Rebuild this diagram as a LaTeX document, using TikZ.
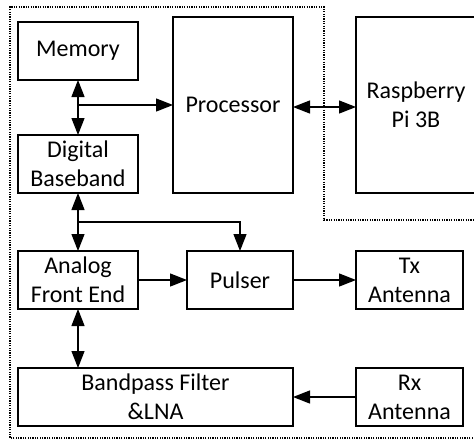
\documentclass[tikz,border=0pt]{standalone}
\usepackage{fontspec}
\setmainfont{Carlito}
\usetikzlibrary{arrows.meta}
\begin{document}
\begin{tikzpicture}[x=1pt,y=-1pt,
  every node/.style={font=\fontsize{24}{29}\selectfont},
  blk/.style={draw, line width=1.3pt, align=center, inner sep=0pt, outer sep=0pt},
  tip/.style={Triangle[length=17pt,width=13pt]},
  link/.style={line width=1.3pt, -{Triangle[length=17pt,width=13pt]}},
  bilink/.style={line width=1.3pt, {Triangle[length=17pt,width=13pt]}-{Triangle[length=17pt,width=13pt]}},
  border/.style={line width=1.2pt, dash pattern=on 1.2pt off 1.2pt}]
\useasboundingbox (0,0) rectangle (474,440);

% blocks
\node[blk, minimum width=120pt, minimum height=58pt] (mem) at (78,51) {Memory};
\node[blk, minimum width=120pt, minimum height=58pt] (dbb) at (78,164) {Digital\\Baseband};
\node[blk, minimum width=120pt, minimum height=176pt] (proc) at (233,105) {Processor};
\node[blk, minimum width=120pt, minimum height=176pt] (rpi) at (416,105) {Raspberry\\Pi 3B};
\node[blk, minimum width=120pt, minimum height=58pt] (afe) at (78,280) {Analog\\Front End};
\node[blk, minimum width=106pt, minimum height=58pt] (pul) at (240,280) {Pulser};
\node[blk, minimum width=107pt, minimum height=58pt] (tx) at (409.5,280) {Tx\\Antenna};
\node[blk, minimum width=275pt, minimum height=58pt] (bpf) at (155.5,397) {Bandpass Filter\\\&LNA};
\node[blk, minimum width=107pt, minimum height=58pt] (rx) at (409.5,397) {Rx\\Antenna};

% dotted enclosure of the sensor board
\draw[border] (480,438) -- (10,438) -- (10,7) -- (324,7) -- (324,220) -- (480,220);

% connections
\coordinate (m1) at (78,105);
\coordinate (b1) at (78,222);
\draw[bilink] (mem.south) -- (dbb.north);
\draw[link] (m1) -- (proc.west |- m1);
\draw[bilink] (proc.east |- 0,107) -- (rpi.west |- 0,107);
\draw[bilink] (dbb.south) -- (afe.north);
\draw[link] (b1) -| (pul.north);
\draw[link] (afe.east) -- (pul.west);
\draw[link] (pul.east) -- (tx.west);
\draw[bilink] (afe.south) -- (afe.south |- bpf.north);
\draw[link] (rx.west) -- (bpf.east);
\end{tikzpicture}
\end{document}
